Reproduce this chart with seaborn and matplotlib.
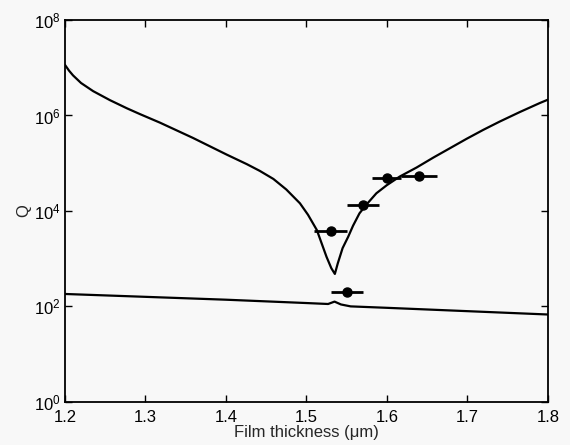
import numpy as np
import pandas as pd
import matplotlib
matplotlib.use("Agg")
import matplotlib.pyplot as plt
import matplotlib.ticker as mticker
import seaborn as sns

# upper curve (log10 Q)
upper_x = [1.200, 1.205, 1.210, 1.220, 1.235, 1.256, 1.277, 1.293, 1.318, 1.359,
           1.401, 1.426, 1.442, 1.459, 1.475, 1.492, 1.502, 1.513, 1.519, 1.525,
           1.531, 1.5354, 1.539, 1.545, 1.552, 1.558, 1.566, 1.575, 1.587, 1.600,
           1.616, 1.637, 1.658, 1.678, 1.699, 1.720, 1.740, 1.765, 1.790, 1.800]
upper_logq = [7.06, 6.94, 6.84, 6.68, 6.51, 6.32, 6.15, 6.03, 5.85, 5.53,
              5.18, 4.98, 4.84, 4.67, 4.45, 4.16, 3.92, 3.60, 3.32, 3.04,
              2.80, 2.68, 2.90, 3.22, 3.46, 3.69, 3.95, 4.14, 4.37, 4.54,
              4.72, 4.91, 5.12, 5.31, 5.51, 5.70, 5.87, 6.07, 6.26, 6.33]

# lower curve
lower_x = [1.200, 1.300, 1.400, 1.500, 1.527, 1.535, 1.543, 1.555, 1.600, 1.700, 1.800]
lower_logq = [2.26, 2.20, 2.14, 2.07, 2.05, 2.10, 2.04, 2.00, 1.97, 1.90, 1.83]

# measured points with thickness error
meas_x = [1.530, 1.570, 1.600, 1.640, 1.550]
meas_q = [3.8e3, 1.3e4, 4.9e4, 5.4e4, 2.0e2]
meas_xerr = [0.02, 0.02, 0.018, 0.022, 0.02]

sns.set_style("ticks")
plt.rcParams['font.family'] = ['Liberation Sans', 'DejaVu Sans']
plt.rcParams['mathtext.default'] = 'regular'

upper = pd.DataFrame({'x': upper_x, 'Q': np.power(10.0, upper_logq)})
lower = pd.DataFrame({'x': lower_x, 'Q': np.power(10.0, lower_logq)})

fig = plt.figure(figsize=(5.7, 4.45), dpi=100)
fig.patch.set_facecolor('#f8f8f8')
ax = fig.add_axes([0.114, 0.097, 0.847, 0.858])
ax.set_facecolor('#f8f8f8')

sns.lineplot(data=upper, x='x', y='Q', ax=ax, color='black', lw=1.6, estimator=None, sort=False)
sns.lineplot(data=lower, x='x', y='Q', ax=ax, color='black', lw=1.6, estimator=None, sort=False)
ax.errorbar(meas_x, meas_q, xerr=meas_xerr, fmt='o', color='black', ms=6.5,
            elinewidth=2, capsize=0, zorder=5)

ax.set_yscale('log')
ax.set_xlim(1.2, 1.8)
ax.set_ylim(1, 1e8)
ax.set_xticks([1.2, 1.3, 1.4, 1.5, 1.6, 1.7, 1.8])
ax.set_xticklabels(['1.2', '1.3', '1.4', '1.5', '1.6', '1.7', '1.8'])
ax.yaxis.set_major_locator(mticker.FixedLocator([1, 1e2, 1e4, 1e6, 1e8]))
ax.yaxis.set_major_formatter(mticker.LogFormatterMathtext())
ax.yaxis.set_minor_locator(mticker.NullLocator())
ax.tick_params(direction='in', top=True, right=True, length=5, width=1,
               labelsize=12, colors='black')
ax.tick_params(axis='x', pad=6)
ax.tick_params(axis='y', pad=3)
for sp in ax.spines.values():
    sp.set_linewidth(1.3)
    sp.set_color('black')

ax.set_xlabel('Film thickness (\u03bcm)', fontsize=12, labelpad=0)
ax.set_ylabel('Q', fontsize=12, labelpad=2)

fig.savefig('out.png', dpi=100, facecolor=fig.get_facecolor())
